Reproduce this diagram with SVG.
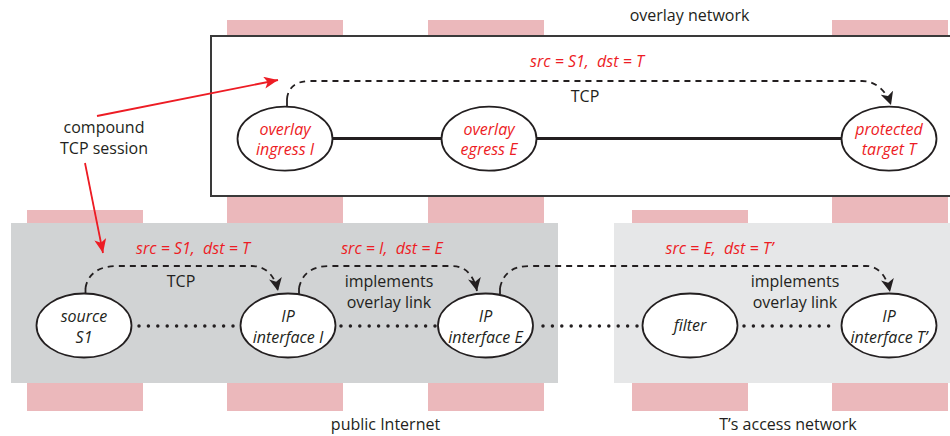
<svg xmlns="http://www.w3.org/2000/svg" width="950" height="436" viewBox="0 0 950 436">
<style>
.pink{fill:#ebb8bb}
.t{font-family:"Open Sans","Liberation Sans",sans-serif;font-size:16px;fill:#231f20;text-anchor:middle}
.r{font-family:"Open Sans","Liberation Sans",sans-serif;font-size:16px;font-style:italic;fill:#ed1c24;text-anchor:middle}
.i{font-family:"Open Sans","Liberation Sans",sans-serif;font-size:16px;font-style:italic;fill:#231f20;text-anchor:middle}
.node ellipse{fill:#fff;stroke:#231f20;stroke-width:1.8}
.dash{fill:none;stroke:#231f20;stroke-width:1.8;stroke-dasharray:6 5}
.tick{stroke:#231f20;stroke-width:1.8}
.dot{stroke:#231f20;stroke-width:3.5;stroke-linecap:round;stroke-dasharray:0 9.4}
.solid{stroke:#231f20;stroke-width:3}
.red{stroke:#ed1c24;stroke-width:1.8;fill:none}
</style>
<defs>
<marker id="ab" markerUnits="userSpaceOnUse" viewBox="0 0 13 13" refX="13" refY="6.5" markerWidth="13" markerHeight="13" orient="auto">
<path d="M0,0 L13,6.5 L0,13 L3.5,6.5 z" fill="#231f20"/>
</marker>
<marker id="ar" markerUnits="userSpaceOnUse" viewBox="0 0 14 12" refX="14" refY="6" markerWidth="14" markerHeight="12" orient="auto">
<path d="M0,0 L14,6 L0,12 L3.5,6 z" fill="#ed1c24"/>
</marker>
</defs>
<g id="background">
<rect class="pink" x="27" y="210" width="116" height="201"/>
<rect class="pink" x="227" y="20" width="116" height="391"/>
<rect class="pink" x="428" y="20" width="116" height="391"/>
<rect class="pink" x="632" y="210" width="116" height="201"/>
<rect class="pink" x="832" y="20" width="116" height="391"/>
<rect x="211" y="36" width="760" height="160" fill="#fff" stroke="#3a3a3a" stroke-width="2"/>
<rect x="11" y="223" width="547" height="160" fill="#d1d3d4"/>
<rect x="614" y="223" width="340" height="160" fill="#e6e7e8"/>
<text class="t" x="689.5" y="21">overlay network</text>
<text class="t" x="385.5" y="430">public Internet</text>
<text class="t" x="788" y="430">T’s access network</text>
</g>
<g id="connectors">
<line class="solid" x1="333" y1="138.5" x2="442" y2="138.5"/>
<line class="solid" x1="537" y1="138.5" x2="842" y2="138.5"/>
<line class="tick" x1="287" y1="107" x2="287" y2="99"/>
<path class="dash" d="M287,99 C288,88 295,81 310,81 L862,81 C875,81 886,90 891,105" marker-end="url(#ab)"/>
<line class="dot" x1="139" y1="326" x2="233" y2="326"/>
<line class="dot" x1="341" y1="326" x2="435" y2="326"/>
<line class="dot" x1="543" y1="326" x2="637" y2="326"/>
<line class="dot" x1="744" y1="326" x2="837" y2="326"/>
<line class="tick" x1="85.5" y1="294" x2="85.5" y2="288"/>
<path class="dash" d="M85.5,288 C88,273 100,266 117,266 L252,266 C266,266 275,276 278,291" marker-end="url(#ab)"/>
<line class="tick" x1="299" y1="294" x2="299" y2="288"/>
<path class="dash" d="M299,288 C302,273 313,266 330,266 L452,266 C466,266 474,276 477,291" marker-end="url(#ab)"/>
<line class="tick" x1="500" y1="294" x2="500" y2="288"/>
<path class="dash" d="M500,288 C503,273 513,266 530,266 L866,266 C879,266 887,277 890,292" marker-end="url(#ab)"/>
<line class="red" x1="97" y1="116" x2="278" y2="80" marker-end="url(#ar)"/>
<line class="red" x1="85" y1="163" x2="103" y2="253" marker-end="url(#ar)"/>
</g>
<g id="labels">
<text class="t" x="104" y="133">compound</text>
<text class="t" x="104" y="154">TCP session</text>
<text class="r" x="587" y="67" xml:space="preserve">src = S1,  dst = T</text>
<text class="t" x="585" y="102">TCP</text>
<text class="r" x="193" y="254" xml:space="preserve">src = S1,  dst = T</text>
<text class="t" x="181" y="287">TCP</text>
<text class="r" x="392" y="254" xml:space="preserve">src = I,  dst = E</text>
<text class="t" x="389" y="287">implements</text>
<text class="t" x="389" y="308">overlay link</text>
<text class="r" x="719.5" y="254" xml:space="preserve">src = E,  dst = T’</text>
<text class="t" x="795" y="287">implements</text>
<text class="t" x="795" y="308">overlay link</text>
</g>
<g id="node-ingress" class="node">
<ellipse cx="285" cy="138.7" rx="47.5" ry="32"/>
<text class="r" x="285" y="135">overlay</text>
<text class="r" x="285" y="155">ingress I</text>
</g>
<g id="node-egress" class="node">
<ellipse cx="489" cy="138.7" rx="47.5" ry="32"/>
<text class="r" x="489" y="135">overlay</text>
<text class="r" x="489" y="155">egress E</text>
</g>
<g id="node-target" class="node">
<ellipse cx="889" cy="138.7" rx="47.5" ry="32"/>
<text class="r" x="889" y="135">protected</text>
<text class="r" x="889" y="155">target T</text>
</g>
<g id="node-source" class="node">
<ellipse cx="84" cy="325.5" rx="47.5" ry="32"/>
<text class="i" x="84" y="322">source</text>
<text class="i" x="84" y="343">S1</text>
</g>
<g id="node-ipI" class="node">
<ellipse cx="288" cy="325.5" rx="47.5" ry="32"/>
<text class="i" x="288" y="322">IP</text>
<text class="i" x="288" y="343">interface I</text>
</g>
<g id="node-ipE" class="node">
<ellipse cx="485.5" cy="325.5" rx="47.5" ry="32"/>
<text class="i" x="485.5" y="322">IP</text>
<text class="i" x="485.5" y="343">interface E</text>
</g>
<g id="node-filter" class="node">
<ellipse cx="690" cy="325.5" rx="47.5" ry="32"/>
<text class="i" x="690" y="331">filter</text>
</g>
<g id="node-ipT" class="node">
<ellipse cx="889" cy="325.5" rx="47.5" ry="32"/>
<text class="i" x="889" y="322">IP</text>
<text class="i" x="889" y="343">interface T’</text>
</g>
</svg>
